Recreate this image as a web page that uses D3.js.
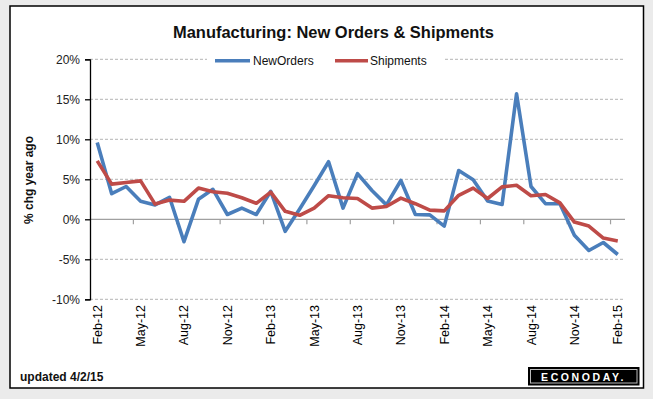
<!DOCTYPE html>
<html>
<head>
<meta charset="utf-8">
<script src="https://cdn.jsdelivr.net/npm/d3@7"></script>
<style>
  html, body { margin: 0; padding: 0; background: #ebebeb; }
  svg { display: block; }
  text { font-family: "Liberation Sans", Arial, sans-serif; }
</style>
</head>
<body>
<svg id="chart" width="653" height="399"></svg>
<script>
const months = ["Feb-12","Mar-12","Apr-12","May-12","Jun-12","Jul-12","Aug-12","Sep-12","Oct-12","Nov-12","Dec-12","Jan-13",
  "Feb-13","Mar-13","Apr-13","May-13","Jun-13","Jul-13","Aug-13","Sep-13","Oct-13","Nov-13","Dec-13","Jan-14",
  "Feb-14","Mar-14","Apr-14","May-14","Jun-14","Jul-14","Aug-14","Sep-14","Oct-14","Nov-14","Dec-14","Jan-15","Feb-15"];
const newOrders = [9.6, 3.2, 4.1, 2.25, 1.8, 2.75, -2.8, 2.5, 3.75, 0.6, 1.4, 0.6,
  3.5, -1.5, 1.3, 4.2, 7.2, 1.4, 5.7, 3.6, 1.8, 4.85, 0.6, 0.55,
  -0.85, 6.1, 4.95, 2.3, 1.85, 15.7, 4.1, 1.95, 1.95, -2.0, -3.9, -2.9, -4.4];
const shipments = [7.3, 4.4, 4.6, 4.8, 1.9, 2.4, 2.25, 3.9, 3.45, 3.25, 2.7, 2.0,
  3.4, 1.0, 0.5, 1.4, 2.95, 2.7, 2.6, 1.4, 1.6, 2.65, 1.95, 1.15,
  1.05, 3.0, 3.9, 2.6, 4.05, 4.25, 2.95, 3.1, 2.05, -0.35, -0.85, -2.35, -2.7];
const tickLabels = ["Feb-12","May-12","Aug-12","Nov-12","Feb-13","May-13","Aug-13","Nov-13","Feb-14","May-14","Aug-14","Nov-14","Feb-15"];
const yTicks = [-10, -5, 0, 5, 10, 15, 20];
const seriesNames = ["NewOrders", "Shipments"];
const colors = ["#4A7EBB", "#BE4B48"];

const svg = d3.select("#chart");

// panel
svg.append("rect").attr("x", 10).attr("y", 6).attr("width", 633.5).attr("height", 382)
  .attr("fill", "#fff").attr("stroke", "#000").attr("stroke-width", 1.5);

const pL = 90, pR = 625, pT = 59.3, pB = 299.3;
const x = d3.scaleBand().domain(months).range([pL, pR]).padding(0);
const cx = m => x(m) + x.bandwidth() / 2;
const y = d3.scaleLinear().domain([-10, 20]).range([pB, pT]);

// gridlines
svg.append("g").selectAll("line").data(yTicks.filter(t => t !== 0)).join("line")
  .attr("x1", pL).attr("x2", pR)
  .attr("y1", d => y(d)).attr("y2", d => y(d))
  .attr("stroke", "#b4b4b4").attr("stroke-width", 1).attr("stroke-dasharray", "3,2");

// x axis at 0
const xAxisG = svg.append("g");
xAxisG.append("line").attr("x1", pL).attr("x2", pR).attr("y1", y(0)).attr("y2", y(0))
  .attr("stroke", "#a0a0a0").attr("stroke-width", 1.2);
const tickPos = months.map((m, i) => i).filter(i => i % 3 === 2 && i < months.length - 1)
  .map(i => x(months[i]) + x.bandwidth());
xAxisG.selectAll("line.tk").data(tickPos).join("line").attr("class", "tk")
  .attr("x1", d => d).attr("x2", d => d).attr("y1", y(0)).attr("y2", y(0) + 5)
  .attr("stroke", "#a0a0a0").attr("stroke-width", 1.2);

// y axis
const yAxis = d3.axisLeft(y).tickValues(yTicks).tickSize(5).tickFormat(d => d + "%");
const yg = svg.append("g").attr("transform", `translate(${pL},0)`).call(yAxis);
yg.select(".domain").attr("stroke", "#000").attr("stroke-width", 1.3);
yg.selectAll(".tick line").attr("stroke", "#000").attr("stroke-width", 1.3);
yg.selectAll(".tick text").attr("x", -10).attr("font-size", 12)
  .attr("font-family", "Liberation Sans, Arial, sans-serif").attr("fill", "#222");

// x labels
svg.append("g").selectAll("text").data(tickLabels).join("text")
  .attr("transform", d => `translate(${cx(d) + 4.5},305) rotate(-90)`)
  .attr("text-anchor", "end").attr("font-size", 12.5).attr("fill", "#000")
  .text(d => d);

// lines
const line = d3.line().x((d, i) => cx(months[i])).y(d => y(d));
[newOrders, shipments].forEach((s, k) => {
  svg.append("path").datum(s).attr("d", line).attr("fill", "none")
    .attr("stroke", colors[k]).attr("stroke-width", 3.6)
    .attr("stroke-linejoin", "round").attr("stroke-linecap", "butt");
});

// legend
const lg = svg.append("g");
lg.append("rect").attr("x", 207).attr("y", 52).attr("width", 236).attr("height", 16).attr("fill", "#fff");
const legendItems = [{x0: 215, x1: 250, tx: 253}, {x0: 335, x1: 368, tx: 370}];
seriesNames.forEach((n, k) => {
  const it = legendItems[k];
  lg.append("line").attr("x1", it.x0).attr("x2", it.x1).attr("y1", 60.7).attr("y2", 60.7)
    .attr("stroke", colors[k]).attr("stroke-width", 3.6);
  lg.append("text").attr("x", it.tx).attr("y", 65).attr("font-size", 12).attr("fill", "#111").text(n);
});

// title
svg.append("text").attr("x", 333.5).attr("y", 38).attr("text-anchor", "middle")
  .attr("font-size", 16.5).attr("font-weight", "bold").attr("fill", "#111")
  .attr("textLength", 321).attr("lengthAdjust", "spacingAndGlyphs")
  .text("Manufacturing: New Orders & Shipments");

// y title
svg.append("text").attr("transform", "translate(33,180) rotate(-90)").attr("text-anchor", "middle")
  .attr("font-size", 12).attr("font-weight", "bold").attr("fill", "#111")
  .text("% chg year ago");

// footer
svg.append("text").attr("x", 20).attr("y", 381).attr("font-size", 12).attr("font-weight", "bold")
  .attr("fill", "#111").text("updated 4/2/15");

// logo
const logo = svg.append("g");
logo.append("rect").attr("x", 528).attr("y", 367).attr("width", 111.5).attr("height", 18.5).attr("fill", "#000");
logo.append("rect").attr("x", 530.5).attr("y", 369.5).attr("width", 106.5).attr("height", 13.5)
  .attr("fill", "none").attr("stroke", "#bbb").attr("stroke-width", 1);
logo.append("text").attr("x", 583.5).attr("y", 380.5).attr("text-anchor", "middle")
  .attr("font-size", 10.5).attr("font-weight", "bold").attr("fill", "#fff")
  .attr("letter-spacing", 2.6).text("ECONODAY.");
</script>
</body>
</html>
